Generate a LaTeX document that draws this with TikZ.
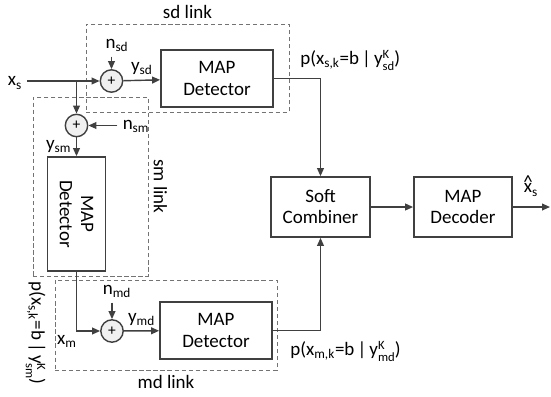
\documentclass[tikz,border=0pt]{standalone}
\usepackage{fontspec}
\setmainfont{Carlito}
\usetikzlibrary{arrows.meta}
\newcommand{\subsup}[2]{\raisebox{-0.3em}{\fontsize{9}{8}\selectfont\begin{tabular}[b]{@{}l@{}}#2\\#1\end{tabular}}}
\newcommand{\xhat}{\ooalign{x\cr\hidewidth\raisebox{0.25em}{\^{}}\hidewidth\cr}}

\begin{document}
\begin{tikzpicture}[x=0.025cm, y=-0.025cm, font=\fontsize{13.5}{15}\selectfont,
    line width=1pt, draw=black!75, >={Triangle[length=0.2cm, width=0.17cm]},
    blk/.style={draw, line width=1.2pt, align=center, minimum width=2.8cm, minimum height=1.42cm},
    sum/.style={draw, circle, fill=black!6, minimum size=0.56cm, inner sep=0pt, font=\fontsize{11}{11}\selectfont},
    linkbox/.style={draw=black!55, densely dashed, line width=0.5pt}]
    \useasboundingbox (0,0) rectangle (551,396);

    % link areas
    \node[linkbox, minimum width=5.08cm, minimum height=2.2cm, label={above:sd link}] at (187.5,68) (sdbox) {};
    \node[linkbox, minimum width=2.875cm, minimum height=4.475cm, label={[anchor=south, rotate=-90]east:sm link}] at (90.5,186.5) (smbox) {};
    \node[linkbox, minimum width=5.55cm, minimum height=2.25cm, label={below:md link}] at (166,325) (mdbox) {};

    \node at (15,83) (xs) {x\textsubscript{s}};
    \node[sum] at (111.5,81) (sumsd) {+};
    \node[sum] at (76.5,125.5) (sumsm) {+};
    \node[sum] at (112,331) (summd) {+};
    \node at (117,45) (nsd) {n\textsubscript{sd}};
    \node at (136,126) (nsm) {n\textsubscript{sm}};
    \node at (117,291) (nmd) {n\textsubscript{md}};
    \node at (67,341) (xm) {x\textsubscript{m}};

    \node[blk] at (217,78.5) (sdmap) {MAP\\Detector};
    \node[blk, rotate=-90, minimum width=2.85cm, minimum height=1.45cm] at (76.5,214) (smmap) {MAP\\Detector};
    \node[blk] at (216,330.5) (mdmap) {MAP\\Detector};
    \node[blk, minimum width=2.48cm, minimum height=1.5cm] at (320.5,207) (soft) {Soft\\Combiner};
    \node[blk, minimum width=2.45cm, minimum height=1.5cm] at (463,207) (dec) {MAP\\Decoder};
    \coordinate (out) at (550,207);
    \node at (531,190) (xout) {\xhat\textsubscript{s}};

    \node[anchor=west] at (295,62) (psd) {p(x\textsubscript{s,k}=b\,|\,y\subsup{sd}{K})};
    \node[anchor=west] at (285,353) (pmd) {p(x\textsubscript{m,k}=b\,|\,y\subsup{md}{K})};
    \node[rotate=-90] at (34,333) (psm) {p(x\textsubscript{s,k}=b\,|\,y\subsup{sm}{K})};

    \draw[->] (xs.east |- sumsd) -- (sumsd);
    \draw[->] (sumsm |- sumsd) -- (sumsm);
    \draw[->] (sumsd |- nsd.south) -- (sumsd);
    \draw[->] (nsm.west |- sumsm) -- (sumsm);
    \draw[->] (summd |- nmd.south) -- (summd);

    \draw[->] (sumsd) -- node[above] {y\textsubscript{sd}} (sdmap);
    \draw[->] (sumsm) -- node[left] {y\textsubscript{sm}} (smmap);
    \draw[->] (summd) -- node[above] {y\textsubscript{md}} (mdmap);
    \draw[->] (smmap.east) |- (summd);

    \draw[->] (sdmap) -| (soft);
    \draw[->] (mdmap) -| (soft);
    \draw[->] (soft) -- (dec);
    \draw[->] (dec) -- (out);
\end{tikzpicture}
\end{document}
